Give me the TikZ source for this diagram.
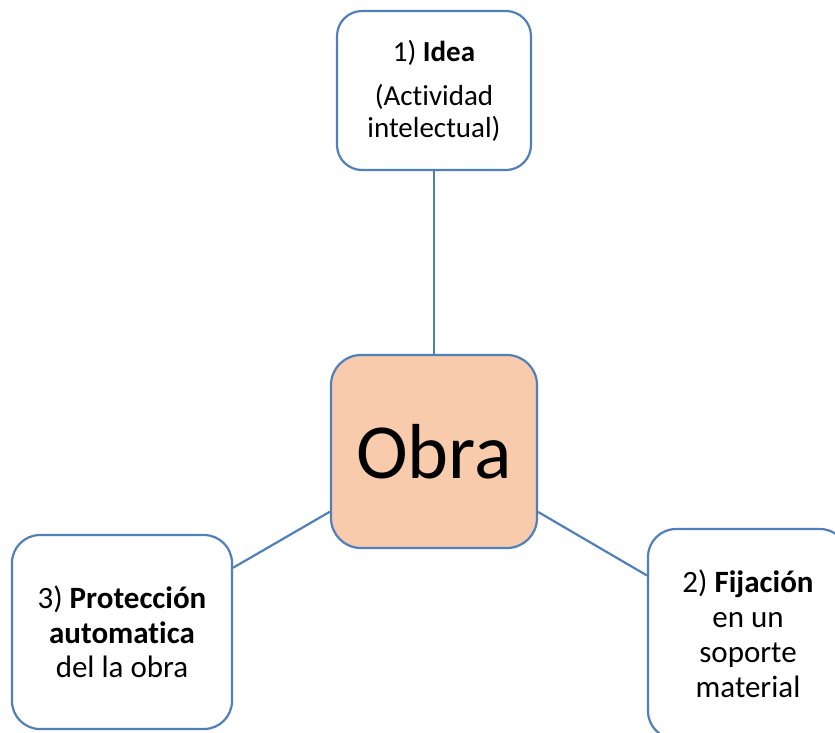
\documentclass[tikz,border=0pt]{standalone}
\usepackage{fontspec}
\setmainfont[Ligatures=NoCommon]{Carlito}
\definecolor{edgeblue}{RGB}{80,128,188}
\definecolor{peach}{RGB}{248,203,173}
\begin{document}
\begin{tikzpicture}[x=1pt,y=-1pt,
  box/.style={draw=edgeblue, line width=2.2pt, rounded corners=28pt, fill=white,
    inner sep=0pt, align=center, font=\fontsize{31}{34.5}\selectfont},
  link/.style={draw=edgeblue, line width=2.2pt}]
\useasboundingbox (0,0) rectangle (835,732);
\node[box, minimum width=194pt, minimum height=159pt, rounded corners=25pt,
  font=\fontsize{29}{31.5}\selectfont] (idea) at (434,90.5)
  {1) \textbf{Idea}\\[13pt](Actividad\\intelectual)};
\node[box, fill=peach, minimum width=206pt, minimum height=193pt, rounded corners=30pt,
  font=\fontsize{78}{90}\selectfont] (obra) at (434,451.5) {Obra};
\node[box, minimum width=220pt, minimum height=194pt] (prot) at (122,632)
  {3) \textbf{Protección}\\\textbf{automatica}\\del la obra};
\node[box, minimum width=200pt, minimum height=210pt,
  font=\fontsize{31}{35}\selectfont] (fij) at (748,634)
  {2) \textbf{Fijación}\\en un\\soporte\\material};
\draw[link] (idea) -- (obra);
\draw[link] (obra) -- (prot);
\draw[link] (obra) -- (fij);
\end{tikzpicture}
\end{document}
